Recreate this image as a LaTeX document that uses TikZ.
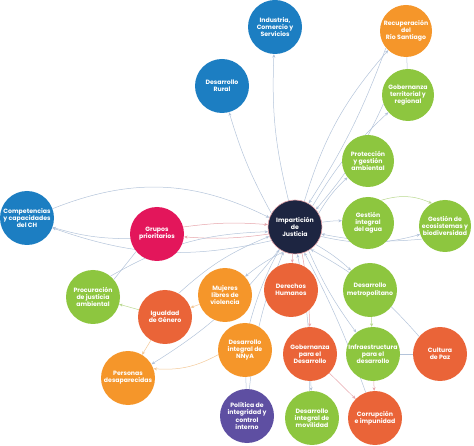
\documentclass[tikz,border=0pt]{standalone}
\usepackage{fontspec}
\setmainfont{Poppins}
\usetikzlibrary{arrows.meta,backgrounds}
\definecolor{cblue}{HTML}{1C7EC2}
\definecolor{corange}{HTML}{F5962A}
\definecolor{cgreen}{HTML}{8DC63F}
\definecolor{cred}{HTML}{EA6438}
\definecolor{cmag}{HTML}{E3165B}
\definecolor{cpurp}{HTML}{5E4FA2}
\definecolor{cnavy}{HTML}{1D2541}
\definecolor{lblue}{HTML}{B4C4DA}
\definecolor{lpink}{HTML}{E7A6AC}
\definecolor{lgreen}{HTML}{B9D88F}
\definecolor{lorange}{HTML}{F3C897}
\tikzset{
  topic/.style={circle, minimum size=54pt, inner sep=0pt, text=white, align=center,
    font=\fontsize{6.2}{7.2}\selectfont\bfseries},
  edge/.style={draw=lblue, line width=0.5pt, -{Stealth[length=3.5pt,width=3pt]}},
  pedge/.style={edge, draw=lpink},
  gedge/.style={edge, draw=lgreen},
  oedge/.style={edge, draw=lorange},
  plain/.style={draw=lblue, line width=0.5pt},
}
\begin{document}
\begin{tikzpicture}[x=1pt,y=-1pt]
\useasboundingbox (0,0) rectangle (474,446);
% nodes
\node[topic, fill=cblue] (ind) at (275,27) {Industria,\\Comercio y\\Servicios};
\node[topic, fill=cblue] (rur) at (222,86) {Desarrollo\\Rural};
\node[topic, fill=corange, minimum size=52pt] (rio) at (406,31) {Recuperación\\del\\Río Santiago};
\node[topic, fill=cgreen, minimum size=52pt] (gtr) at (408,95) {Gobernanza\\territorial y\\regional};
\node[topic, fill=cgreen, minimum size=52pt] (pga) at (368,161) {Protección\\y gestión\\ambiental};
\node[topic, fill=cgreen, minimum size=52pt] (gia) at (368,223) {Gestión\\integral\\del agua};
\node[topic, fill=cgreen, minimum size=52pt] (geb) at (445,226) {Gestión de\\ecosistemas y\\biodiversidad};
\node[topic, fill=cblue] (com) at (27,218) {Competencias\\y capacidades\\del CH};
\node[topic, fill=cmag] (gru) at (157,234) {Grupos\\prioritarios};
\node[topic, fill=cnavy, draw=lpink, line width=0.6pt] (imp) at (295,227) {Impartición\\de\\Justicia};
\node[topic, fill=cgreen] (pro) at (93,297) {Procuración\\de justicia\\ambiental};
\node[topic, fill=cred] (igu) at (165,317) {Igualdad\\de Género};
\node[topic, fill=corange] (muj) at (225,295) {Mujeres\\libres de\\violencia};
\node[topic, fill=cred] (der) at (291,290) {Derechos\\Humanos};
\node[topic, fill=cgreen] (met) at (370,290) {Desarrollo\\metropolitano};
\node[topic, fill=corange] (nny) at (245,350) {Desarrollo\\integral de\\NNyA};
\node[topic, fill=cred] (gde) at (310,354) {Gobernanza\\para el\\Desarrollo};
\node[topic, fill=cgreen] (inf) at (373,354) {Infraestructura\\para el\\desarrollo};
\node[topic, fill=cred] (paz) at (440,354) {Cultura\\de Paz};
\node[topic, fill=corange] (per) at (128,378) {Personas\\desaparecidas};
\node[topic, fill=cpurp] (pol) at (247,416) {Política de\\integridad y\\control\\interno};
\node[topic, fill=cgreen] (mov) at (312,418) {Desarrollo\\integral de\\movilidad};
\node[topic, fill=cred] (cor) at (375,418) {Corrupción\\e impunidad};
\begin{scope}[on background layer]
% edges from center
\draw[edge] (imp) to[bend left=8] (ind);
\draw[edge] (imp.150) to[bend left=6] (rur);
\draw[edge] (imp.70) to[bend left=12] (rio);
\draw[edge] (imp.50) to[bend left=8] (gtr);
\draw[edge] (imp.30) to[bend left=8] (pga);
\draw[edge] (imp.10) to[bend left=4] (gia);
\draw[edge] (imp.-20) to[bend right=14] (geb);
\draw[edge] (imp.-40) to[bend left=6] (met);
\draw[edge] (imp.-60) to[bend right=6] (inf);
\draw[pedge] (imp.-75) to[bend left=4] (gde);
\draw[pedge] (imp.-95) to (der);
\draw[edge] (imp.-115) to[bend right=6] (muj);
\draw[edge] (imp.-125) to[bend left=10] (per);
\draw[pedge] (imp.-165) to[bend left=6] (gru);
\draw[edge] (imp.-150) to[bend left=16] (com);
% edges into center
\draw[edge] (com.20) to[bend left=24] (imp.160);
\draw[pedge] (gru.15) to[bend left=6] (imp.175);
\draw[edge] (pro.50) to[bend left=14] (imp.190);
\draw[edge] (igu.60) to[bend left=10] (imp.200);
\draw[edge] (nny.80) to[bend left=6] (imp.235);
\draw[edge] (pol.85) to[bend left=8] (imp.245);
\draw[edge] (mov.95) to[bend right=6] (imp.275);
\draw[edge] (cor.110) to[bend right=4] (imp.290);
\draw[edge] (paz.140) to[bend right=10] (imp.305);
\draw[edge] (gtr.200) to[bend left=8] (imp.40);
\draw[edge] (rio.220) to[bend left=6] (imp.60);
\draw[edge] (geb.210) to[bend left=8] (imp.345);
% other edges
\draw[plain] (rio) -- (gtr);
\draw[gedge] (gia.60) to[bend left=20] (geb.120);
\draw[oedge] (muj) -- (igu);
\draw[gedge] (igu) -- (pro);
\draw[plain] (pro.40) -- (gru.220);
\draw[oedge] (igu) -- (per);
\draw[oedge] (nny.190) to[bend left=16] (per.20);
\draw[plain] (nny) -- (pol);
\draw[edge] (gde) -- (mov);
\draw[pedge] (gde) -- (cor);
\draw[pedge] (inf) -- (cor);
\draw[plain] (inf) -- (paz);
\draw[gedge] (met) -- (inf);
\draw[edge] (gru.190) to[bend left=8] (com.-20);
\end{scope}
\end{tikzpicture}
\end{document}
